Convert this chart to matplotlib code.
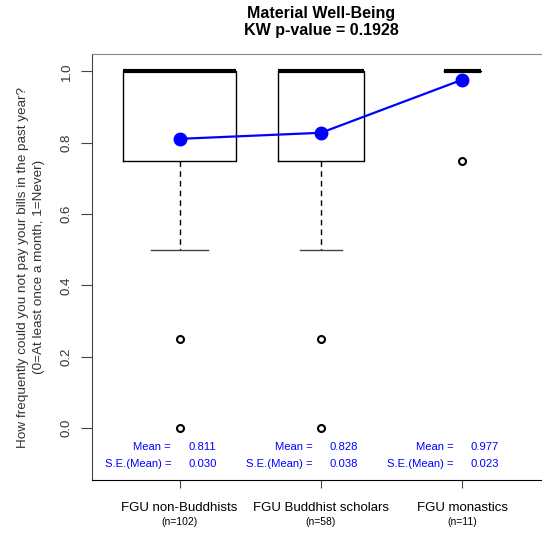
import numpy as np
import matplotlib
matplotlib.use("Agg")
import matplotlib.pyplot as plt

plt.rcParams['font.family'] = ['Liberation Sans', 'DejaVu Sans']

# data
groups = ['FGU non-Buddhists', 'FGU Buddhist scholars', 'FGU monastics']
n_sizes = [102, 58, 11]
q1 = [0.75, 0.75, 1.0]
medians = [1.0, 1.0, 1.0]
q3 = [1.0, 1.0, 1.0]
whisker_low = [0.5, 0.5, 1.0]
whisker_high = [1.0, 1.0, 1.0]
outliers = [[0.25, 0.0], [0.25, 0.0], [0.75]]
means = [0.811, 0.828, 0.977]
se_means = [0.030, 0.038, 0.023]
yticks = [0.0, 0.2, 0.4, 0.6, 0.8, 1.0]


def main():
    fig = plt.figure(figsize=(5.42, 5.35), dpi=100)
    W, H = 542, 535
    ax = fig.add_axes([92 / W, 1 - 480 / H, (550 - 92) / W, (480 - 54) / H])

    pos = np.arange(1, len(groups) + 1)
    widths = [0.0795 * np.sqrt(n) for n in n_sizes]
    stats = []
    for i in range(len(groups)):
        stats.append(dict(q1=q1[i], med=medians[i], q3=q3[i],
                          whislo=whisker_low[i], whishi=whisker_high[i],
                          fliers=outliers[i]))
    ax.bxp(stats, positions=pos, widths=widths, showfliers=True,
           boxprops=dict(color='black', linewidth=1.0),
           medianprops=dict(color='black', linewidth=3.0, solid_capstyle='butt'),
           whiskerprops=dict(color='black', linewidth=1.0, linestyle=(0, (4, 3))),
           capprops=dict(color='#444444', linewidth=1.0),
           capwidths=[w / 2 for w in widths],
           flierprops=dict(marker='o', markersize=5, markerfacecolor='none',
                           markeredgecolor='black', markeredgewidth=1.5))

    # means
    ax.plot(pos, means, color='blue', linewidth=1.6, marker='o', markersize=9,
            zorder=5)

    for i, p in enumerate(pos):
        ax.text(p - 0.06, -0.053, 'Mean =', color='blue', ha='right',
                va='center', fontsize=8.1)
        ax.text(p + 0.06, -0.053, '%.3f' % means[i], color='blue', ha='left',
                va='center', fontsize=8.1)
        ax.text(p - 0.06, -0.101, 'S.E.(Mean) =', color='blue', ha='right',
                va='center', fontsize=8.1)
        ax.text(p + 0.06, -0.101, '%.3f' % se_means[i], color='blue', ha='left',
                va='center', fontsize=8.1)

    ax.set_xlim(0.38, 3.62)
    ax.set_ylim(-0.146, 1.049)
    ax.set_xticks(pos)
    ax.set_xticklabels(groups, fontsize=9.5)
    ax.tick_params(axis='x', length=6, pad=10, color='#444444')
    xt = ax.get_xaxis_transform()
    for i, p in enumerate(pos):
        ax.text(p, (480 - 522) / (480 - 54), '(n=%d)' % n_sizes[i],
                ha='center', va='center', fontsize=7.5, transform=xt,
                clip_on=False)
    ax.set_yticks(yticks)
    ax.set_yticklabels(['%.1f' % t for t in yticks], rotation=90, va='center',
                       fontsize=9.5, color='#333333')
    ax.tick_params(axis='y', length=8, pad=6, color='#444444')

    ax.spines['right'].set_visible(False)
    ax.spines['top'].set_color('#888888')
    ax.spines['left'].set_color('#444444')
    ax.spines['bottom'].set_color('black')

    ax.set_ylabel('How frequently could you not pay your bills in the past year?\n'
                  '(0=At least once a month, 1=Never)', fontsize=9.7,
                  color='#333333', labelpad=11.5, linespacing=1.45)
    ax.set_title('Material Well-Being\nKW p-value = 0.1928', fontsize=11.5,
                 fontweight='bold', pad=14, linespacing=1.1)

    fig.savefig('out.png', dpi=100)


if __name__ == "__main__":
    main()
